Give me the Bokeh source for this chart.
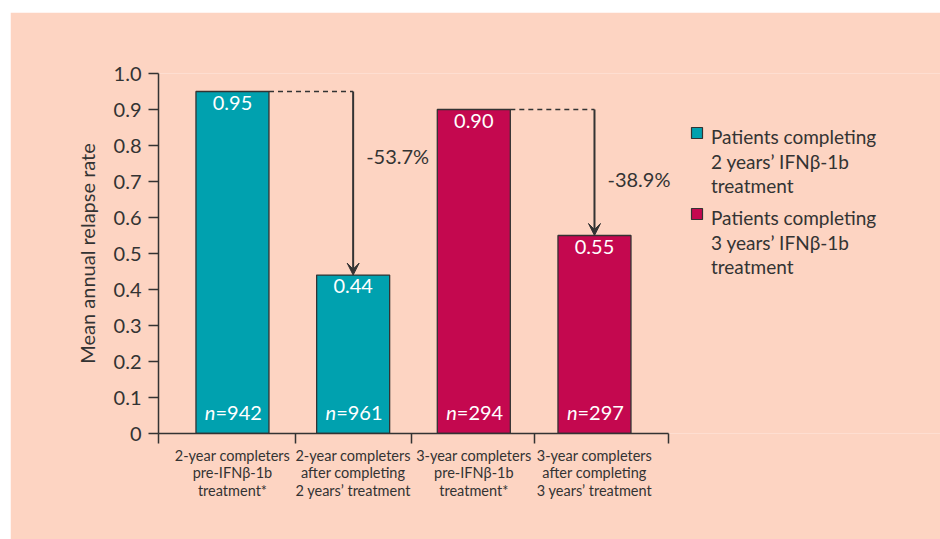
from bokeh.plotting import figure
from bokeh.models import ColumnDataSource, FixedTicker, Arrow, VeeHead
from bokeh.core.properties import value
from bokeh.embed import file_html
from bokeh.resources import INLINE

# --- data -----------------------------------------------------------------
categories = [
    "2-year completers\npre-IFNβ-1b\ntreatment*",
    "2-year completers\nafter completing\n2 years’ treatment",
    "3-year completers\npre-IFNβ-1b\ntreatment*",
    "3-year completers\nafter completing\n3 years’ treatment",
]
rates = [0.95, 0.44, 0.90, 0.55]
rate_labels = ["0.95", "0.44", "0.90", "0.55"]
n_counts = ["=942", "=961", "=294", "=297"]
groups = ["2y", "2y", "3y", "3y"]
changes = ["-53.7%", "-38.9%"]
series = ["2y", "3y"]
series_labels = [
    "Patients completing\n2 years’ IFNβ-1b\ntreatment",
    "Patients completing\n3 years’ IFNβ-1b\ntreatment",
]
y_ticks = [0, 0.1, 0.2, 0.3, 0.4, 0.5, 0.6, 0.7, 0.8, 0.9, 1.0]
y_tick_labels = ["0", "0.1", "0.2", "0.3", "0.4", "0.5", "0.6", "0.7", "0.8", "0.9", "1.0"]

# --- style ----------------------------------------------------------------
FONT = "Lato"
INK = "#333333"
PANEL = "#FDD4C2"
COLORS = {"2y": "#00A1AF", "3y": "#C4084F"}
BAR_W = 0.605
PX_PER_X = 120.67
X_START, X_END = 0.387, 4.613
BOUNDARIES = [X_START, 1.52, 2.483, 3.503, X_END]

xs = [i + 1 for i in range(len(rates))]

p = figure(
    width=930, height=527,
    x_range=(X_START, X_START + 782 / PX_PER_X), y_range=(0, 1.0),
    output_backend="svg", toolbar_location=None,
    min_border_left=148, min_border_right=0, min_border_top=61, min_border_bottom=106,
    background_fill_color=PANEL, border_fill_color=PANEL, outline_line_color=None,
)
p.margin = (12, 0, 0, 10)
p.grid.visible = False

# bars, one renderer per patient group
for g in series:
    idx = [i for i, gg in enumerate(groups) if gg == g]
    src = ColumnDataSource(dict(
        x=[xs[i] for i in idx],
        top=[rates[i] for i in idx],
        lab=[rate_labels[i] for i in idx],
        n=[n_counts[i] for i in idx],
    ))
    p.vbar(x="x", top="top", width=BAR_W, source=src,
           fill_color=COLORS[g], line_color=INK, line_width=1.3)
    p.text(x="x", y="top", text="lab", source=src, text_color="white",
           text_font=value(FONT), text_font_size="20px",
           text_align="center", text_baseline="top", y_offset=4)
    p.text(x="x", y=0, text="n", source=src, text_color="white",
           text_font=value(FONT), text_font_size="20px",
           text_align="left", text_baseline="bottom", x_offset=-17, y_offset=-10)
    p.text(x="x", y=0, text=value("n"), source=src, text_color="white",
           text_font=value(FONT), text_font_size="20px", text_font_style="italic",
           text_align="right", text_baseline="bottom", x_offset=-17, y_offset=-10)

# before/after change arrows
for i0, i1 in [(0, 1), (2, 3)]:
    p.segment(x0=xs[i0] + BAR_W / 2, y0=rates[i0], x1=xs[i1], y1=rates[i0],
              line_color=INK, line_width=1.3, line_dash="5 4")
    p.add_layout(Arrow(
        end=VeeHead(size=12, fill_color=INK, line_color=INK, line_width=1),
        x_start=xs[i1], y_start=rates[i0], x_end=xs[i1], y_end=rates[i1],
        line_color=INK, line_width=2))
label_y = [0.772, 0.708]
p.text(x=[xs[1], xs[3]], y=label_y, text=changes, text_color=INK,
       text_font=value(FONT), text_font_size="20px",
       text_align="left", text_baseline="middle", x_offset=13)

# legend key: swatch beside the first line of each label
key_x = X_START + 538.5 / PX_PER_X
key_y = [300.5 / 360, 219.5 / 360]
key_src = ColumnDataSource(dict(
    x=[key_x] * len(series), y=key_y,
    color=[COLORS[g] for g in series], label=series_labels,
))
p.scatter(x="x", y="y", marker="square", size=11, source=key_src,
          fill_color="color", line_color=INK, line_width=1.2)
p.text(x="x", y="y", text="label", source=key_src, text_color=INK,
       text_font=value(FONT), text_font_size="19px", text_line_height=1.07,
       text_align="left", text_baseline="top", x_offset=14, y_offset=-8)

# axes
yax = p.yaxis[0]
yax.ticker = FixedTicker(ticks=y_ticks)
yax.major_label_overrides = {t: s for t, s in zip(y_ticks, y_tick_labels)}
yax.bounds = (0, 1.0)
yax.minor_tick_line_color = None
yax.major_tick_out = 10
yax.major_tick_in = 0
yax.major_label_standoff = 7
yax.axis_label = "Mean annual relapse rate"
yax.axis_label_text_font = FONT
yax.axis_label_text_font_size = "20px"
yax.axis_label_text_font_style = "normal"
yax.axis_label_text_color = INK
yax.axis_label_standoff = 12
yax.major_label_text_font_size = "20px"
yax.major_tick_line_color = INK

xax = p.xaxis[0]
xax.ticker = FixedTicker(ticks=xs, minor_ticks=BOUNDARIES)
xax.major_label_overrides = {x: c for x, c in zip(xs, categories)}
xax.bounds = (X_START, X_END)
xax.major_tick_line_color = None
xax.major_tick_out = 0
xax.major_tick_in = 0
xax.minor_tick_out = 10
xax.minor_tick_in = 0
xax.minor_tick_line_color = INK
xax.major_label_standoff = 3
xax.major_label_text_font_size = "14.5px"
xax.major_label_text_line_height = 1.03

for ax in (xax, yax):
    ax.axis_line_color = INK
    ax.axis_line_width = 1.5
    ax.major_tick_line_width = 1.5
    ax.minor_tick_line_width = 1.5
    ax.major_label_text_font = FONT
    ax.major_label_text_color = INK

open("out.html", "w").write(file_html(p, INLINE))
